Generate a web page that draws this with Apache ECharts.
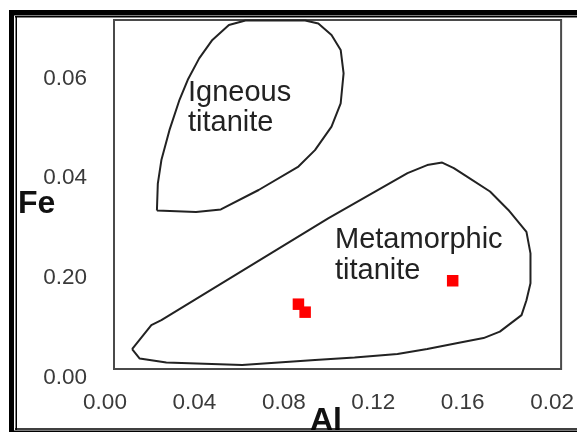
<!DOCTYPE html>
<html>
<head>
<meta charset="utf-8">
<script src="https://cdn.jsdelivr.net/npm/echarts@6/dist/echarts.min.js"></script>
<style>
  html, body { margin: 0; padding: 0; background: #fff; }
  #chart { width: 577px; height: 432px; }
</style>
</head>
<body>
<div id="chart"></div>
<script>
// tick labels as printed in the figure (typos kept)
const xTickLabels = ['0.00', '0.04', '0.08', '0.12', '0.16', '0.02']
const yTickLabels = ['0.00', '0.20', '0.04', '0.06']

// field outlines, [Al, Fe]
const igneousField = [
  [0.0192, 0.0318], [0.0367, 0.0315], [0.0478, 0.0320], [0.0647, 0.0359],
  [0.0825, 0.0406], [0.0899, 0.0439], [0.0973, 0.0486], [0.1014, 0.0533],
  [0.1027, 0.0593], [0.1014, 0.0640], [0.0973, 0.0670], [0.0914, 0.0693],
  [0.0855, 0.0699], [0.0588, 0.0699], [0.0514, 0.0690], [0.0440, 0.0660],
  [0.0381, 0.0623], [0.0330, 0.0580], [0.0293, 0.0540], [0.0248, 0.0479],
  [0.0212, 0.0419], [0.0196, 0.0372], [0.0192, 0.0318]
]
const metamorphicField = [
  [0.0081, 0.0040], [0.0167, 0.0088], [0.0212, 0.0098], [0.0958, 0.0302],
  [0.1313, 0.0393], [0.1401, 0.0409], [0.1468, 0.0414], [0.1520, 0.0403],
  [0.1579, 0.0386], [0.1682, 0.0356], [0.1764, 0.0319], [0.1845, 0.0275],
  [0.1863, 0.0232], [0.1863, 0.0172], [0.1845, 0.0138], [0.1823, 0.0108],
  [0.1726, 0.0075], [0.1653, 0.0062], [0.1549, 0.0053], [0.1401, 0.0040],
  [0.1268, 0.0030], [0.1076, 0.0023], [0.0899, 0.0018], [0.0573, 0.0008],
  [0.0234, 0.0013], [0.0115, 0.0021], [0.0081, 0.0040]
]

// analysed titanite grains
const samples = [
  [0.0825, 0.0130],
  [0.0855, 0.0114],
  [0.1515, 0.0177]
]

const chart = echarts.init(document.getElementById('chart'))

function tickText(labels, step) {
  return function (v) {
    const i = Math.round(v / step)
    if (Math.abs(v - i * step) > 1e-6) return ''
    return labels[i] || ''
  }
}

const frame = '#000'

chart.setOption({
  animation: false,
  backgroundColor: '#fff',
  grid: {
    left: 114, right: 12, top: 20, bottom: 63,
    show: true,
    borderColor: '#4a4a4a',
    borderWidth: 2
  },
  xAxis: {
    type: 'value',
    min: 0,
    max: 0.2,
    interval: 0.04,
    axisLine: { show: false },
    axisTick: { show: false },
    splitLine: { show: false },
    axisLabel: {
      fontFamily: 'Liberation Sans',
      fontSize: 22.5,
      color: '#3a3a3a',
      margin: 22,
      padding: [0, 18, 0, 0],
      formatter: tickText(xTickLabels, 0.04)
    }
  },
  yAxis: {
    type: 'value',
    min: 0,
    max: 0.07,
    interval: 0.02,
    axisLine: { show: false },
    axisTick: { show: false },
    splitLine: { show: false },
    axisLabel: {
      fontFamily: 'Liberation Sans',
      fontSize: 22.5,
      color: '#3a3a3a',
      margin: 27,
      verticalAlign: 'top',
      lineHeight: 17,
      formatter: tickText(yTickLabels, 0.02)
    }
  },
  series: [
    {
      type: 'line',
      data: igneousField,
      symbol: 'none',
      lineStyle: { color: '#222', width: 2 }
    },
    {
      type: 'line',
      data: metamorphicField,
      symbol: 'none',
      lineStyle: { color: '#222', width: 2 }
    },
    {
      type: 'scatter',
      data: samples,
      symbol: 'rect',
      symbolSize: 11.5,
      itemStyle: { color: '#ff0000', opacity: 1 }
    }
  ],
  graphic: [
    {
      type: 'text', left: 188, top: 78,
      style: {
        text: 'Igneous\ntitanite', fontFamily: 'Liberation Sans',
        fontSize: 29, lineHeight: 30, fill: '#222'
      }
    },
    {
      type: 'text', left: 335, top: 224,
      style: {
        text: 'Metamorphic\ntitanite', fontFamily: 'Liberation Sans',
        fontSize: 29, lineHeight: 31, fill: '#222'
      }
    },
    {
      type: 'text', left: 18, top: 188,
      style: {
        text: 'Fe', fontFamily: 'Liberation Sans', fontWeight: 'bold',
        fontSize: 32, fill: '#111'
      }
    },
    {
      type: 'text', left: 310, top: 405, z: 1,
      style: {
        text: 'Al', fontFamily: 'Liberation Sans', fontWeight: 'bold',
        fontSize: 32, fill: '#111'
      }
    },
    // outer double frame of the figure
    { type: 'rect', z: 10, shape: { x: 9, y: 10, width: 568, height: 5.5 }, style: { fill: frame } },
    { type: 'rect', z: 10, shape: { x: 15, y: 16, width: 562, height: 1.5 }, style: { fill: frame } },
    { type: 'rect', z: 10, shape: { x: 9, y: 10, width: 5, height: 422 }, style: { fill: frame } },
    { type: 'rect', z: 10, shape: { x: 15.5, y: 16, width: 1.5, height: 414 }, style: { fill: frame } },
    { type: 'rect', z: 10, shape: { x: 15, y: 428.3, width: 562, height: 1.5 }, style: { fill: frame } },
    { type: 'rect', z: 10, shape: { x: 9, y: 430.5, width: 568, height: 2 }, style: { fill: frame } }
  ]
})
</script>
</body>
</html>
